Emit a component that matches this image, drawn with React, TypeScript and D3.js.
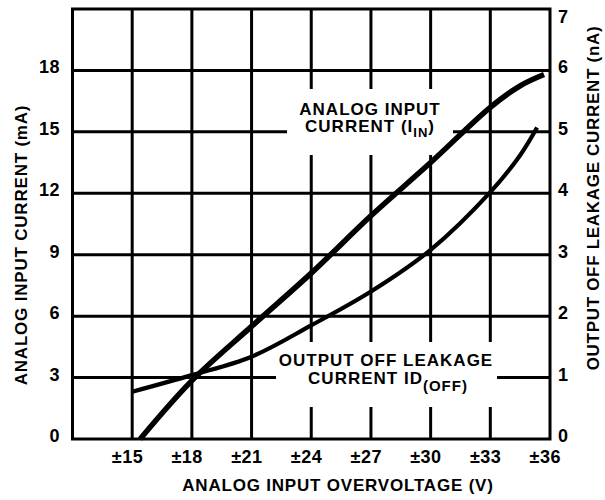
import React from 'react';
import * as d3 from 'd3';

// tick values
const voltTicks = [15, 18, 21, 24, 27, 30, 33, 36];
const voltLabels = ['±15', '±18', '±21', '±24', '±27', '±30', '±33', '±36'];
const maTicks = [0, 3, 6, 9, 12, 15, 18];
const naTicks = [0, 1, 2, 3, 4, 5, 6, 7];

// analog input current (mA, left axis)
const iinVolts = [15.4, 18, 21, 24, 27, 30, 33, 34.5, 35.7];
const iinMa = [0, 2.85, 5.5, 8.1, 10.9, 13.5, 16.2, 17.25, 17.8];

// output off leakage current (nA, right axis)
const leakVolts = [15, 18, 21, 24, 27, 30, 33, 34.5, 35.35];
const leakNa = [0.77, 1.04, 1.34, 1.85, 2.4, 3.08, 4.02, 4.62, 5.07];

const W = 605;
const H = 500;
const FONT = '"Liberation Sans", Arial, Helvetica, sans-serif';

export default function App() {
  const x = d3.scaleLinear().domain([12, 36]).range([72.5, 550]);
  const yL = d3.scaleLinear().domain([0, 21]).range([439, 9]);
  const yR = d3.scaleLinear().domain([0, 7]).range([439, 9]);

  const iinLine = d3
    .line<number>()
    .x((_, i) => x(iinVolts[i]))
    .y((d) => yL(d))
    .curve(d3.curveCatmullRom.alpha(0.5));
  const leakLine = d3
    .line<number>()
    .x((_, i) => x(leakVolts[i]))
    .y((d) => yR(d))
    .curve(d3.curveCatmullRom.alpha(0.5));

  const [x0, x1] = x.range();
  const [y0, y1] = yL.range();

  return (
    <div style={{ position: 'fixed', left: 0, top: 0 }}>
      <svg width={W} height={H} style={{ display: 'block', background: '#fff' }}>
        {/* grid */}
        <g stroke="#000" strokeWidth={3}>
          {maTicks.filter((d) => d > 0).map((d) => (
            <line key={'h' + d} x1={x0} x2={x1} y1={yL(d)} y2={yL(d)} />
          ))}
          {voltTicks.filter((d) => d < 36).map((d) => (
            <line key={'v' + d} x1={x(d)} x2={x(d)} y1={y1} y2={y0} />
          ))}
        </g>
        {/* gaps behind the curve labels */}
        <rect x={287} y={89} width={166} height={66} fill="#fff" />
        <rect x={276} y={342} width={221} height={65} fill="#fff" />

        <rect x={x0} y={y1} width={x1 - x0} height={y0 - y1} fill="none" stroke="#000" strokeWidth={3} />

        {/* curves */}
        <path d={leakLine(leakNa) || ''} fill="none" stroke="#000" strokeWidth={4.2} />
        <path d={iinLine(iinMa) || ''} fill="none" stroke="#000" strokeWidth={5.5} />

        {/* tick labels */}
        <g fontFamily={FONT} fontWeight="bold" fontSize={18} fill="#000">
          {maTicks.map((d) => (
            <text key={'l' + d} x={60} y={yL(d) + 3} textAnchor="end" letterSpacing={0.5}>
              {d}
            </text>
          ))}
          {naTicks.map((d) => (
            <text key={'r' + d} x={558} y={d === 7 ? 23 : yR(d) + 3} letterSpacing={0.5}>
              {d}
            </text>
          ))}
          {voltTicks.map((d, i) => (
            <text key={'b' + d} x={x(d) + 11} y={463} textAnchor="end" letterSpacing={0.5}>
              {voltLabels[i]}
            </text>
          ))}
        </g>

        {/* axis titles */}
        <g fontFamily={FONT} fontWeight="bold" fontSize={17} fill="#000" letterSpacing={0.8}>
          <text x={338} y={491} textAnchor="middle">ANALOG INPUT OVERVOLTAGE (V)</text>
          <text transform="translate(27,245) rotate(-90)" textAnchor="middle">
            ANALOG INPUT CURRENT (mA)
          </text>
          <text transform="translate(599,198) rotate(-90)" textAnchor="middle" letterSpacing={0.7}>
            OUTPUT OFF LEAKAGE CURRENT (nA)
          </text>
        </g>

        {/* curve labels */}
        <g fontFamily={FONT} fontWeight="bold" fontSize={17} fill="#000" letterSpacing={1}>
          <text x={370} y={115} textAnchor="middle">ANALOG INPUT</text>
          <text x={370} y={132} textAnchor="middle">
            CURRENT (I
            <tspan fontSize={13} dy={5}>IN</tspan>
            <tspan dy={-5}>)</tspan>
          </text>
          <text x={386} y={366} textAnchor="middle">OUTPUT OFF LEAKAGE</text>
          <text x={388} y={384} textAnchor="middle">
            CURRENT ID
            <tspan fontSize={15} dy={7}>(OFF)</tspan>
          </text>
        </g>
      </svg>
    </div>
  );
}
